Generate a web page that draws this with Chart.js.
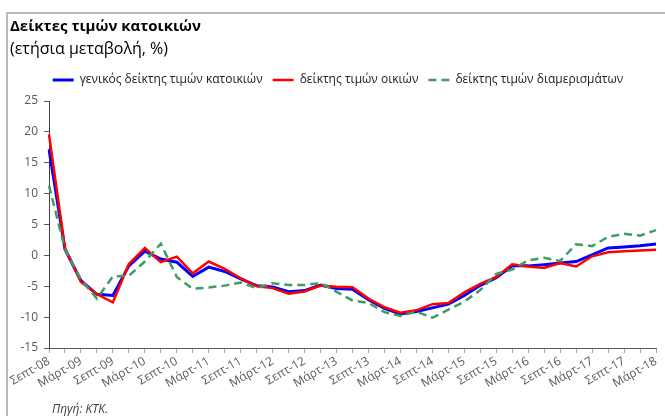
<!DOCTYPE html>
<html lang="el">
<head>
<meta charset="utf-8">
<title>Δείκτες τιμών κατοικιών</title>
<script src="https://cdn.jsdelivr.net/npm/chart.js@4.4.1/dist/chart.umd.min.js"></script>
<style>
  html, body { margin: 0; padding: 0; background: #fff; }
  #wrap { position: relative; width: 665px; height: 416px; overflow: hidden; font-family: "Open Sans", sans-serif; }
  #frame { position: absolute; left: 6px; top: 12px; right: -10px; bottom: -10px;
           border-left: 2px solid #b9b9b9; border-top: 2px solid #b9b9b9; }
  #title { position: absolute; left: 10px; top: 18px; font-size: 15px; line-height: 15px; font-weight: 700; color: #000; white-space: nowrap; }
  #subtitle { position: absolute; left: 10px; top: 40px; font-size: 16px; line-height: 16px; color: #000; white-space: nowrap; }
  #source { position: absolute; left: 52px; top: 403px; font-size: 12px; line-height: 12px; font-style: italic; color: #404040; white-space: nowrap; }
  #chart { position: absolute; left: 0; top: 0; }
</style>
</head>
<body>
<div id="wrap">
  <div id="frame"></div>
  <canvas id="chart" width="665" height="416"></canvas>
  <div id="title">Δείκτες τιμών κατοικιών</div>
  <div id="subtitle">(ετήσια μεταβολή, %)</div>
  <div id="source">Πηγή: ΚΤΚ.</div>
</div>
<script>
// Quarterly observations, September 2008 – March 2018
const quarters = [
  'Σεπτ-08', 'Δεκ-08',
  'Μάρτ-09', 'Ιούν-09', 'Σεπτ-09', 'Δεκ-09',
  'Μάρτ-10', 'Ιούν-10', 'Σεπτ-10', 'Δεκ-10',
  'Μάρτ-11', 'Ιούν-11', 'Σεπτ-11', 'Δεκ-11',
  'Μάρτ-12', 'Ιούν-12', 'Σεπτ-12', 'Δεκ-12',
  'Μάρτ-13', 'Ιούν-13', 'Σεπτ-13', 'Δεκ-13',
  'Μάρτ-14', 'Ιούν-14', 'Σεπτ-14', 'Δεκ-14',
  'Μάρτ-15', 'Ιούν-15', 'Σεπτ-15', 'Δεκ-15',
  'Μάρτ-16', 'Ιούν-16', 'Σεπτ-16', 'Δεκ-16',
  'Μάρτ-17', 'Ιούν-17', 'Σεπτ-17', 'Δεκ-17',
  'Μάρτ-18'
];

// Annual change, %
const generalIndex = [
  17.2, 1.0,
  -4.1, -6.3, -6.5, -1.7,
  0.7, -0.6, -1.1, -3.4,
  -1.9, -2.6, -3.8, -4.9,
  -5.1, -5.9, -5.7, -4.8,
  -5.35, -5.5, -7.2, -8.6,
  -9.5, -9.1, -8.5, -7.9,
  -6.5, -4.85, -3.6, -1.7,
  -1.7, -1.5, -1.25, -1.0,
  0.1, 1.2, 1.35, 1.55,
  1.85
];

const housesIndex = [
  19.6, 1.2,
  -4.3, -6.3, -7.6, -1.4,
  1.2, -1.1, -0.2, -2.9,
  -1.0, -2.2, -3.7, -5.0,
  -5.3, -6.2, -5.85, -4.9,
  -5.1, -5.15, -7.0, -8.4,
  -9.3, -8.9, -7.9, -7.7,
  -6.0, -4.6, -3.5, -1.45,
  -1.8, -2.05, -1.25, -1.8,
  -0.15, 0.5, 0.65, 0.8,
  0.9
];

const apartmentsIndex = [
  11.3, 1.0,
  -3.9, -7.0, -3.4, -3.3,
  -1.0, 1.9, -3.5, -5.4,
  -5.2, -4.9, -4.4, -5.3,
  -4.5, -4.8, -4.8, -4.5,
  -5.9, -7.3, -7.7, -9.2,
  -9.8, -9.1, -10.1, -8.8,
  -7.5, -5.6, -3.0, -2.3,
  -0.8, -0.4, -0.9, 1.8,
  1.5, 3.0, 3.5, 3.2,
  4.1
];

const seriesNames = [
  'γενικός δείκτης τιμών κατοικιών',
  'δείκτης τιμών οικιών',
  'δείκτης τιμών διαμερισμάτων'
];

const yMin = -15, yMax = 25, yStep = 5;

// Extra room under the legend row, and a small rightward nudge of the legend
const legendPlacement = {
  id: 'legendPlacement',
  beforeInit(chart) {
    const legend = chart.legend;
    if (!legend) return;
    const fit = legend.fit;
    legend.fit = function () { fit.call(this); this.height += 5; };
  },
  afterLayout(chart) {
    const legend = chart.legend;
    if (!legend) return;
    legend.left += 10;
    legend.right += 10;
  }
};

const tickFont = { family: '"Open Sans", sans-serif', size: 12 };

new Chart(document.getElementById('chart'), {
  type: 'line',
  data: {
    labels: quarters,
    datasets: [
      {
        label: seriesNames[0],
        data: generalIndex,
        borderColor: '#0000ff',
        backgroundColor: '#0000ff',
        borderWidth: 3,
        pointRadius: 0,
        tension: 0,
        order: 3
      },
      {
        label: seriesNames[1],
        data: housesIndex,
        borderColor: '#ff0000',
        backgroundColor: '#ff0000',
        borderWidth: 2.5,
        pointRadius: 0,
        tension: 0,
        order: 2
      },
      {
        label: seriesNames[2],
        data: apartmentsIndex,
        borderColor: '#3e9b62',
        backgroundColor: '#3e9b62',
        borderWidth: 2.5,
        borderDash: [8, 5],
        pointRadius: 0,
        tension: 0,
        order: 1
      }
    ]
  },
  options: {
    responsive: false,
    animation: false,
    layout: { padding: { top: 64, left: 0, right: 9, bottom: 0 } },
    plugins: {
      legend: {
        position: 'top',
        labels: {
          usePointStyle: true,
          pointStyle: 'line',
          pointStyleWidth: 21,
          padding: 10,
          color: '#1a1a1a',
          font: { family: '"Open Sans", sans-serif', size: 12 },
          generateLabels(chart) {
            return chart.data.datasets.map((ds, i) => ({
              text: ds.label,
              strokeStyle: ds.borderColor,
              fillStyle: ds.borderColor,
              fontColor: '#1a1a1a',
              lineWidth: ds.borderWidth,
              lineDash: ds.borderDash || [],
              lineCap: 'butt',
              pointStyle: 'line',
              hidden: !chart.isDatasetVisible(i),
              datasetIndex: i
            }));
          }
        }
      },
      tooltip: { enabled: true }
    },
    scales: {
      x: {
        offset: false,
        afterFit(scale) { scale.height = 68; },
        grid: { display: true, drawOnChartArea: false, drawTicks: true, tickLength: 5, color: '#a6a6a6' },
        border: { display: true, color: '#595959', width: 1 },
        ticks: {
          autoSkip: false,
          maxRotation: 30,
          minRotation: 30,
          padding: 1,
          color: '#595959',
          font: tickFont,
          callback(value, index) { return index % 2 === 0 ? quarters[index] : ''; }
        }
      },
      y: {
        min: yMin,
        max: yMax,
        afterFit(scale) { scale.width = 49; },
        grid: { display: true, drawOnChartArea: false, drawTicks: true, tickLength: 5, color: '#595959' },
        border: { display: true, color: '#404040', width: 1 },
        ticks: {
          stepSize: yStep,
          padding: 6,
          color: '#595959',
          font: tickFont
        }
      }
    }
  },
  plugins: [legendPlacement]
});
</script>
</body>
</html>
